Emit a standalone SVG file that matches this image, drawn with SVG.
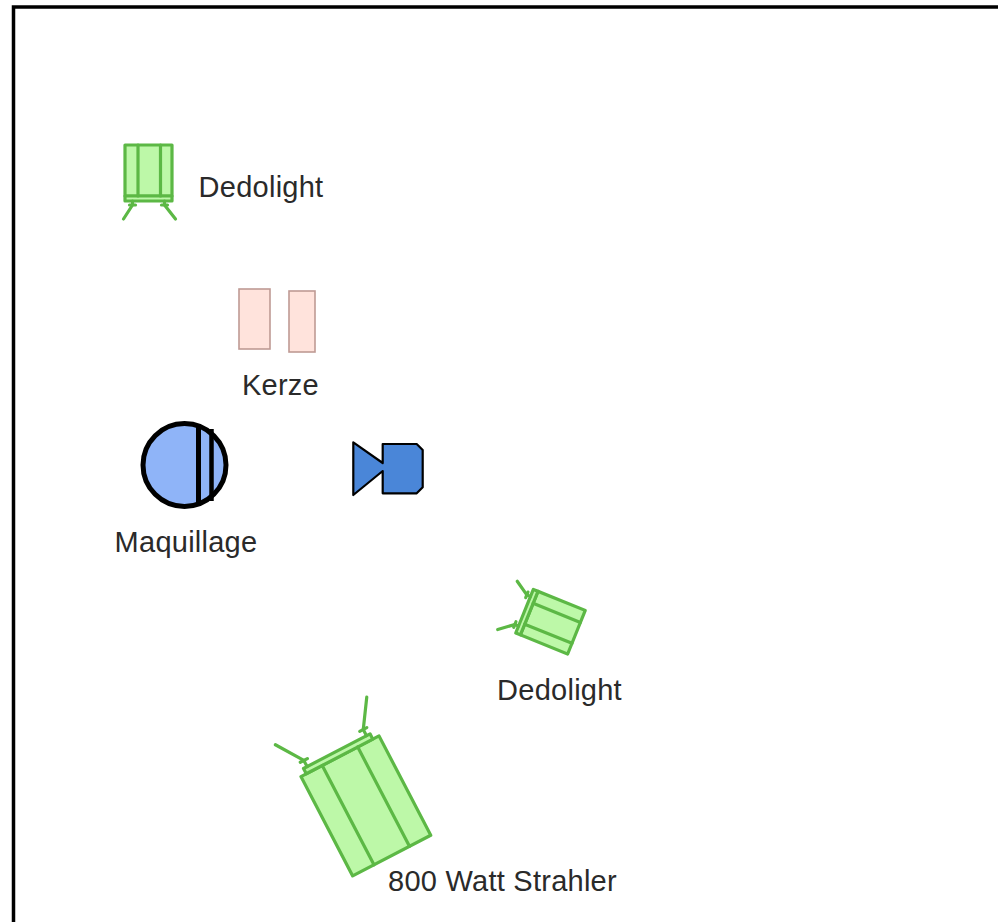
<svg xmlns="http://www.w3.org/2000/svg" width="998" height="922" viewBox="0 0 998 922">
<style>
.lamp{fill:#bdf8a8;stroke:#5cb845;stroke-width:3.2;stroke-linejoin:round}
.leg{fill:none;stroke:#5cb845;stroke-width:3.2;stroke-linecap:round;stroke-linejoin:round}
.candle{fill:#ffe3dc;stroke:#bf9a94;stroke-width:1.6}
.lbl{font-family:"Liberation Sans",Arial,sans-serif;font-size:29px;letter-spacing:0.25px;fill:#2a2a2a;text-anchor:middle}
</style>
<defs>
<g id="dedo">
<rect class="lamp" x="-23.5" y="-28" width="47" height="51"/>
<rect class="lamp" x="-23.5" y="23" width="47" height="5"/>
<line class="leg" x1="-10.5" y1="-28" x2="-10.5" y2="23"/>
<line class="leg" x1="12" y1="-28" x2="12" y2="23"/>
<polyline class="leg" points="-16,28 -16,32 -25,46"/>
<polyline class="leg" points="16,28 16,32 27,46"/>
<line class="leg" x1="-19" y1="32" x2="-13" y2="32"/>
<line class="leg" x1="13" y1="32" x2="19" y2="32"/>
</g>
</defs>
<rect x="0" y="0" width="998" height="922" fill="#fff"/>
<path d="M13.5,922 V7 H998" fill="none" stroke="#000" stroke-width="3.5"/>
<g id="connectors"/>
<g id="dedolight1">
<use href="#dedo" transform="translate(148.5,173)"/>
<text class="lbl" x="261" y="197">Dedolight</text>
</g>
<g id="kerze">
<rect class="candle" x="239" y="289" width="31" height="60"/>
<rect class="candle" x="289" y="291" width="26" height="61"/>
<text class="lbl" x="280.5" y="395">Kerze</text>
</g>
<g id="maquillage">
<circle cx="184.5" cy="465" r="41.5" fill="#8fb4f8" stroke="#000" stroke-width="5"/>
<line x1="198.5" y1="424" x2="198.5" y2="506" stroke="#000" stroke-width="5"/>
<line x1="211.5" y1="429" x2="211.5" y2="501" stroke="#000" stroke-width="4.5"/>
<text class="lbl" x="186" y="552">Maquillage</text>
</g>
<g id="kamera">
<path d="M353.3,442.3 L382.7,463 V444 H416.7 L422.7,450 V487.3 L416.7,493.3 H382.7 V471 L353.3,495 Z" fill="#4a86d8" stroke="#000" stroke-width="2.2" stroke-linejoin="round"/>
</g>
<g id="dedolight2">
<use href="#dedo" transform="translate(550.5,621.7) rotate(112)"/>
<text class="lbl" x="559.5" y="700">Dedolight</text>
</g>
<g id="strahler">
<g transform="translate(365.85,805.9) rotate(-27.5)">
<rect class="lamp" x="-44" y="-56" width="88" height="112"/>
<rect class="lamp" x="-38" y="-62" width="75" height="6"/>
<line class="leg" x1="-20" y1="-56" x2="-20" y2="56"/>
<line class="leg" x1="20" y1="-56" x2="20" y2="56"/>
<polyline class="leg" points="-34,-62 -34,-69 -52,-96"/>
<polyline class="leg" points="33,-62 33,-69 51,-96"/>
<line class="leg" x1="-38" y1="-69" x2="-30" y2="-69"/>
<line class="leg" x1="29" y1="-69" x2="37" y2="-69"/>
</g>
<text class="lbl" x="502.5" y="891">800 Watt Strahler</text>
</g>
</svg>
